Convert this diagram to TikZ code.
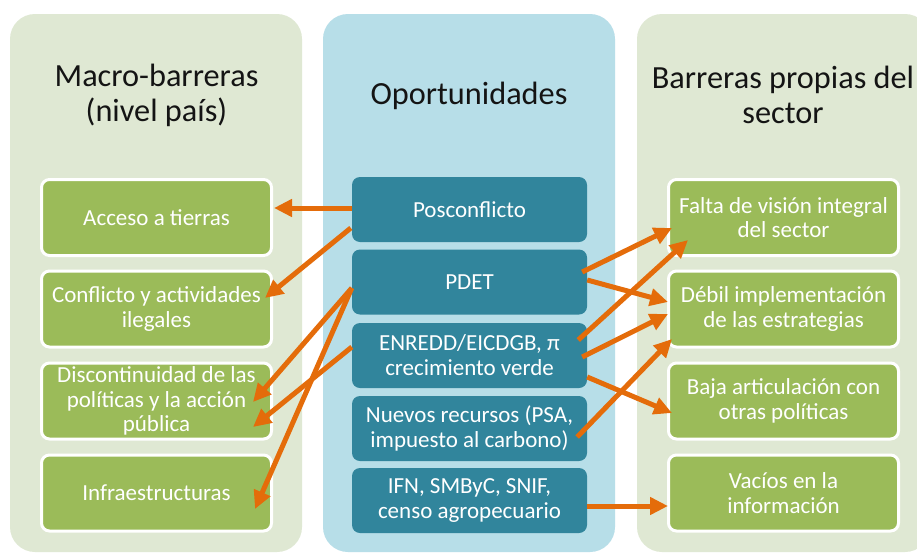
\documentclass[tikz,border=0pt]{standalone}
\usepackage{fontspec}
\setmainfont{Carlito}
\usetikzlibrary{arrows.meta}
\definecolor{panelgreen}{HTML}{DFE8D3}
\definecolor{panelblue}{HTML}{B7DEE8}
\definecolor{boxgreen}{HTML}{9BBB59}
\definecolor{boxteal}{HTML}{31859C}
\definecolor{arrorange}{HTML}{E46C0A}
\definecolor{titleblack}{HTML}{141414}
\begin{document}
\begin{tikzpicture}[x=1pt,y=-1pt,
  panelbox/.style={rounded corners=25pt},
  titletext/.style={text=titleblack, align=center, font=\fontsize{32.3}{35}\selectfont, inner sep=0pt},
  gbox/.style={draw=white, line width=3pt, fill=boxgreen, rounded corners=8pt,
    minimum width=230pt, minimum height=76pt, text=white, align=center,
    font=\fontsize{23}{24.5}\selectfont, inner sep=0pt},
  tbox/.style={fill=boxteal, rounded corners=8pt,
    minimum width=235pt, minimum height=65pt, text=white, align=center,
    font=\fontsize{23}{25}\selectfont, inner sep=0pt},
  conn/.style={draw=arrorange, line width=5pt, -{Triangle[length=18pt,width=17pt]}}
]
\useasboundingbox[fill=white] (0,0) rectangle (917,554);
% panels
\fill[panelgreen, panelbox] (10,14) rectangle (302,552);
\fill[panelblue, panelbox] (323,14) rectangle (615,552);
\fill[panelgreen, panelbox] (637,14) rectangle (930,552);
% titles
\node[titletext] (tl) at (156.5,95) {Macro-barreras\\(nivel país)};
\node[titletext] (tm) at (469,96) {Oportunidades};
\node[titletext] (tr) at (783,95) {Barreras propias del\\sector};
% left boxes
\node[gbox] (acc) at (156.5,217.5) {Acceso a tierras};
\node[gbox] (con) at (156.5,309) {Conflicto y actividades\\ilegales};
\node[gbox] (dis) at (156.5,401) {Discontinuidad de las\\políticas y la acción\\pública};
\node[gbox] (inf) at (156.5,493) {Infraestructuras};
% middle boxes
\node[tbox] (pos) at (469.5,209.5) {Posconflicto};
\node[tbox] (pdet) at (469.5,282) {PDET};
\node[tbox] (enr) at (469.5,355.5) {ENREDD/EICDGB, π\\crecimiento verde};
\node[tbox] (nue) at (469.5,428.5) {Nuevos recursos (PSA,\\impuesto al carbono)};
\node[tbox] (ifn) at (469.5,500.5) {IFN, SMByC, SNIF,\\censo agropecuario};
% right boxes
\node[gbox] (fal) at (783.5,217.5) {Falta de visión integral\\del sector};
\node[gbox] (deb) at (783.5,309) {Débil implementación\\de las estrategias};
\node[gbox] (baj) at (783.5,401) {Baja articulación con\\otras políticas};
\node[gbox] (vac) at (783.5,493) {Vacíos en la\\información};
% connectors to the left
\draw[conn] ([yshift=1.5pt]pos.west) -- ([xshift=1pt,yshift=9.5pt]acc.east);
\draw[conn] ([xshift=-1pt,yshift=-18.5pt]pos.west) -- ([xshift=-8pt,yshift=11pt]con.east);
\draw[conn] ([yshift=-6pt]pdet.west) -- ([xshift=-20pt,yshift=-1pt]dis.east);
\draw[conn] ([yshift=-6pt]pdet.west) -- ([xshift=-18pt,yshift=-16pt]inf.east);
\draw[conn] ([yshift=8.5pt]enr.west) -- ([xshift=-20pt,yshift=-26pt]dis.east);
% connectors to the right
\draw[conn] ([xshift=-5pt,yshift=10pt]pdet.east) -- ([xshift=5pt,yshift=-10.5pt]fal.west);
\draw[conn] ([yshift=2pt]pdet.east) -- ([xshift=1pt,yshift=7pt]deb.west);
\draw[conn] ([xshift=-9pt,yshift=15.5pt]enr.east) -- ([xshift=21pt,yshift=-22.5pt]fal.west);
\draw[conn] ([xshift=-5pt,yshift=-1.5pt]enr.east) -- ([xshift=1pt,yshift=-5pt]deb.west);
\draw[conn] ([yshift=-21.5pt]enr.east) -- ([xshift=5pt,yshift=-12pt]baj.west);
\draw[conn] ([xshift=-10pt,yshift=-8.5pt]nue.east) -- ([xshift=5pt,yshift=-30pt]deb.west);
\draw[conn] ([yshift=-5.5pt]ifn.east) -- ([xshift=1pt,yshift=-13pt]vac.west);
\end{tikzpicture}
\end{document}
